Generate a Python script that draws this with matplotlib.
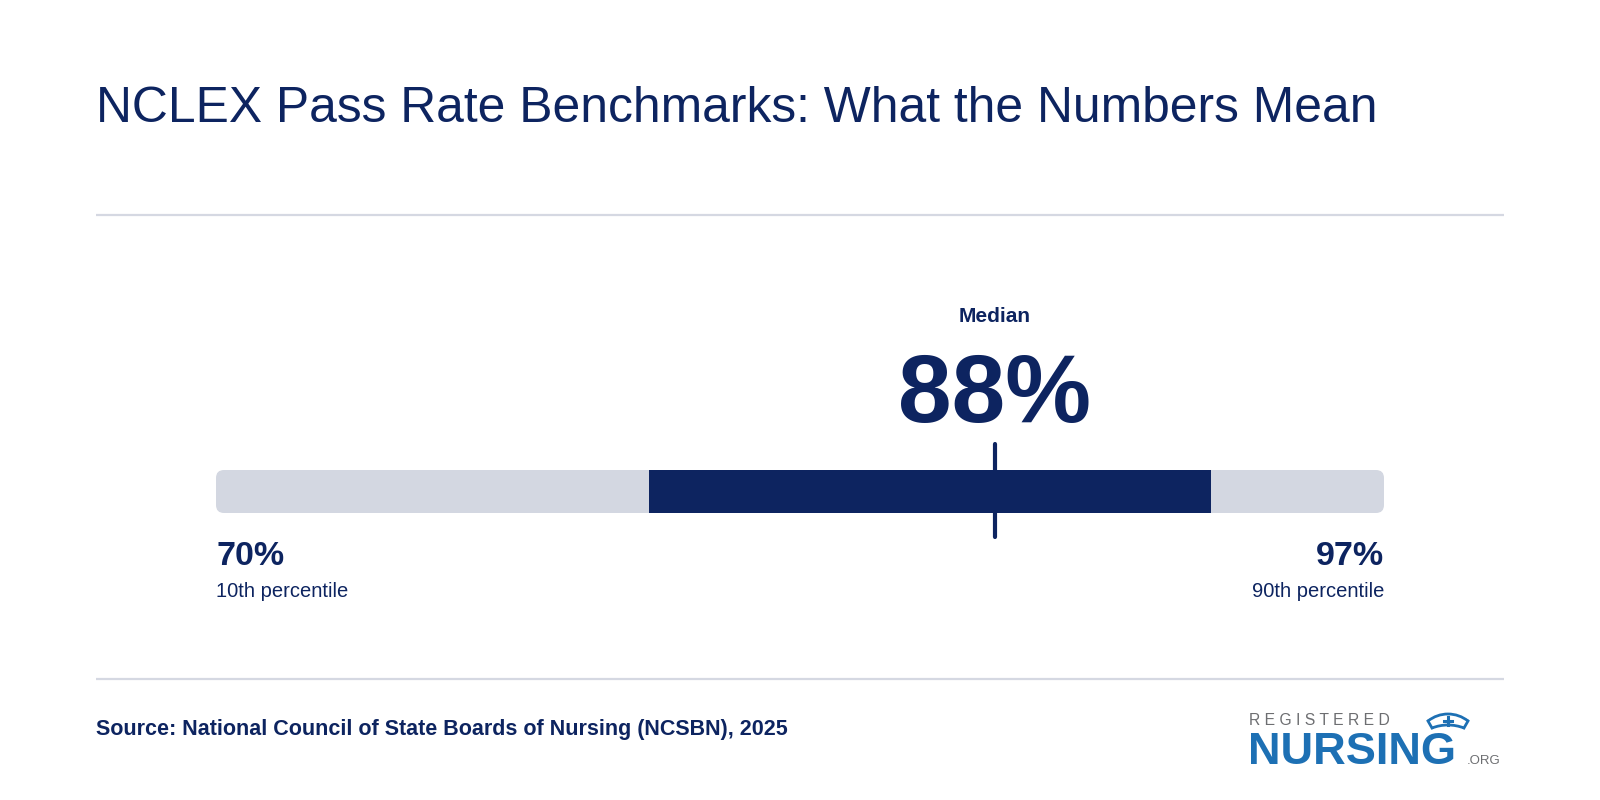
import matplotlib.pyplot as plt
from matplotlib.patches import FancyBboxPatch, Arc

plt.rcParams['font.family'] = ['Liberation Sans', 'DejaVu Sans']

# Benchmark values (NCLEX pass rate, %)
p10 = 70
p25 = 80
median = 88
p75 = 93
p90 = 97
low_label = '10th percentile'
high_label = '90th percentile'
title = 'NCLEX Pass Rate Benchmarks: What the Numbers Mean'
source = 'Source: National Council of State Boards of Nursing (NCSBN), 2025'

NAVY = '#0d2460'
LIGHT = '#d3d7e1'
RULE = '#d5d8e2'
BLUE = '#1d70b4'
GREY = '#6d6e71'

fig = plt.figure(figsize=(16, 8), dpi=100)
fig.patch.set_facecolor('white')

# background axes in pixel coordinates (top-left origin)
bg = fig.add_axes([0, 0, 1, 1])
bg.set_xlim(0, 1600)
bg.set_ylim(800, 0)
bg.axis('off')

bg.text(96, 122, title, fontsize=35.8, color=NAVY, ha='left', va='baseline')
bg.plot([96, 1504], [215, 215], color=RULE, lw=1.6, solid_capstyle='butt')
bg.plot([96, 1504], [679, 679], color=RULE, lw=1.6, solid_capstyle='butt')
bg.text(96, 735, source, fontsize=15.5, fontweight='bold', color=NAVY,
        ha='left', va='baseline')

# logo
bg.text(1249, 725, 'R E G I S T E R E D', fontsize=11.3, color=GREY,
        ha='left', va='baseline')
bg.text(1248, 764, 'NURSING', fontsize=32.5, fontweight='bold', color=BLUE,
        ha='left', va='baseline')
bg.text(1467, 764, '.ORG', fontsize=9.5, color=GREY, ha='left', va='baseline')
# nurse cap icon
dy = -3
bg.add_patch(Arc((1448, 749 + dy), 64, 64, theta1=231.3, theta2=308.7,
                 color=BLUE, lw=2))
bg.add_patch(Arc((1448, 772 + dy), 88, 88, theta1=248.7, theta2=291.3,
                 color=BLUE, lw=2))
bg.plot([1428, 1432], [724 + dy, 731 + dy], color=BLUE, lw=2)
bg.plot([1468, 1464], [724 + dy, 731 + dy], color=BLUE, lw=2)
bg.plot([1443.5, 1451.5], [724 + dy, 724 + dy], color=BLUE, lw=2.2)
bg.plot([1447.5, 1447.5], [720 + dy, 728 + dy], color=BLUE, lw=2.2)

# benchmark bar axes: x in percent, y in pixels
ax = fig.add_axes([216 / 1600, 0, 1168 / 1600, 1])
ax.set_xlim(p10, p90)
ax.set_ylim(800, 0)
ax.axis('off')

bar_top, bar_h = 470, 43
px_per_unit = 1168 / (p90 - p10)
radius = 8
ax.add_patch(FancyBboxPatch((p10, bar_top), p90 - p10, bar_h,
                            boxstyle=f'round,pad=0,rounding_size={radius / px_per_unit}',
                            mutation_aspect=px_per_unit,
                            facecolor=LIGHT, edgecolor='none'))
ax.barh(bar_top + bar_h / 2, p75 - p25, left=p25, height=bar_h,
        color=NAVY, edgecolor='none')
ax.plot([median, median], [444, 537], color=NAVY, lw=3, solid_capstyle='round')

ax.text(median, 322, 'Median', fontsize=15, fontweight='bold', color=NAVY,
        ha='center', va='baseline')
ax.text(median, 422, f'{median}%', fontsize=69.5, fontweight='bold', color=NAVY,
        ha='center', va='baseline')

ax.text(p10, 565, f'{p10}%', fontsize=24.5, fontweight='bold', color=NAVY,
        ha='left', va='baseline')
ax.text(p10, 597, low_label, fontsize=14.5, color=NAVY, ha='left', va='baseline')
ax.text(p90, 565, f'{p90}%', fontsize=24.5, fontweight='bold', color=NAVY,
        ha='right', va='baseline')
ax.text(p90, 597, high_label, fontsize=14.5, color=NAVY, ha='right', va='baseline')

fig.savefig('out.png', dpi=100, facecolor='white')
